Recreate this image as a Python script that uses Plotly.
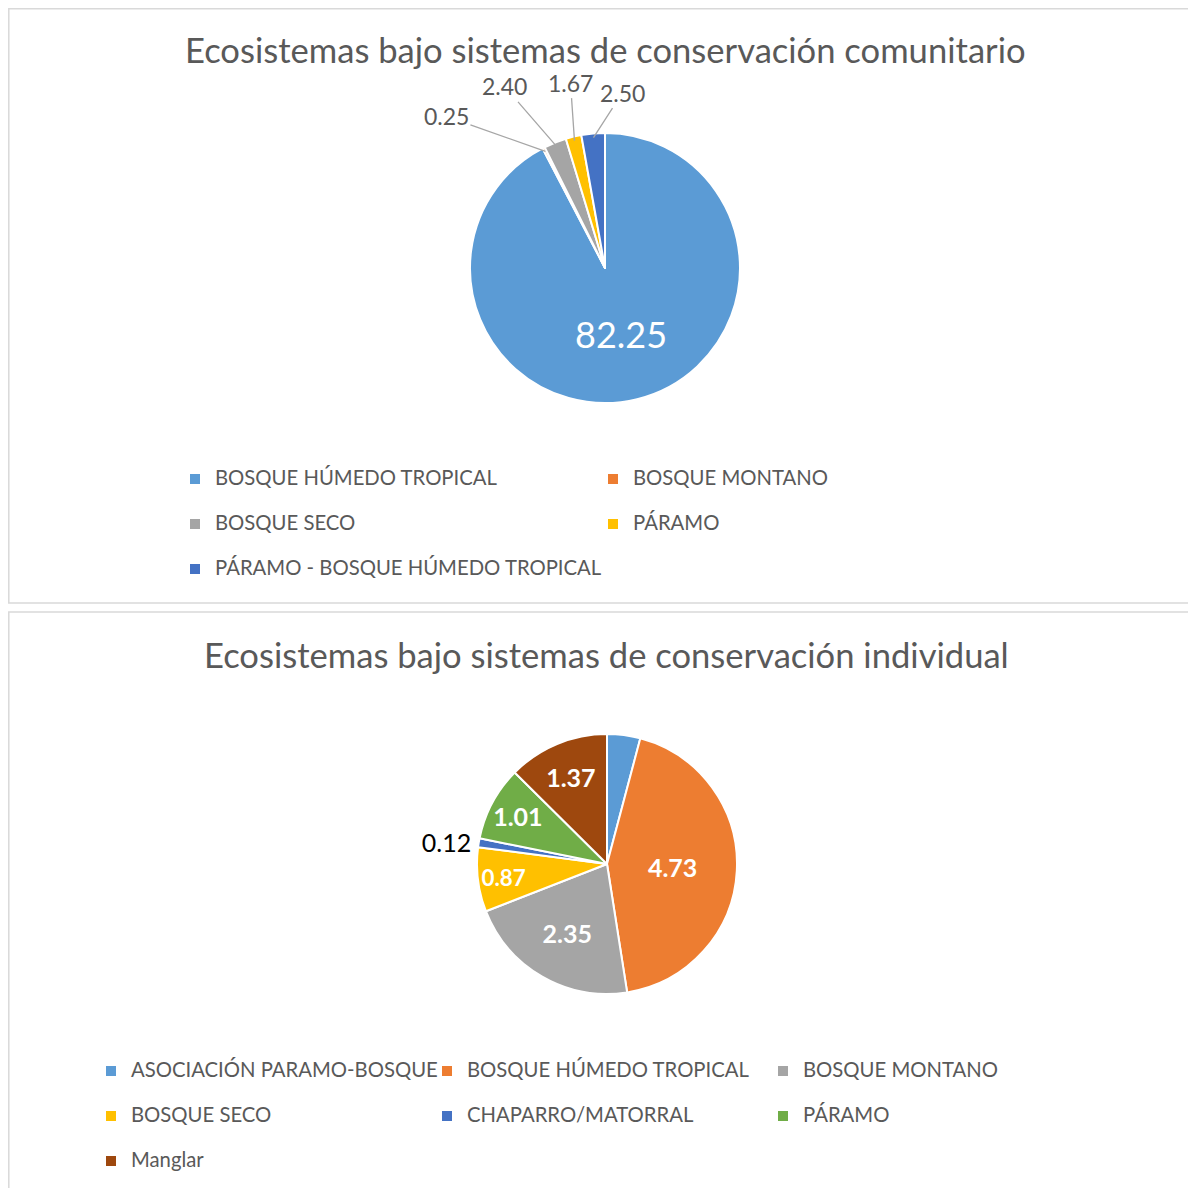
import math
import plotly.graph_objects as go

# figure is drawn inside the page body (8px default body margin)
OFF = 8
FW, FH = 1188, 1210

# ---------------- data ----------------
title_top = "Ecosistemas bajo sistemas de conservación comunitario"
labels_top = ["BOSQUE HÚMEDO TROPICAL", "BOSQUE MONTANO", "BOSQUE SECO", "PÁRAMO",
              "PÁRAMO - BOSQUE HÚMEDO TROPICAL"]
values_top = [82.25, 0.25, 2.40, 1.67, 2.50]
colors_top = ["#5B9BD5", "#ED7D31", "#A5A5A5", "#FFC000", "#4472C4"]
inside_top = [True, False, False, False, False]

title_bot = "Ecosistemas bajo sistemas de conservación individual"
labels_bot = ["ASOCIACIÓN PARAMO-BOSQUE", "BOSQUE HÚMEDO TROPICAL", "BOSQUE MONTANO",
              "BOSQUE SECO", "CHAPARRO/MATORRAL", "PÁRAMO", "Manglar"]
values_bot = [0.45, 4.73, 2.35, 0.87, 0.12, 1.01, 1.37]
colors_bot = ["#5B9BD5", "#ED7D31", "#A5A5A5", "#FFC000", "#4472C4", "#70AD47", "#9E480E"]
inside_bot = [True, True, True, True, False, True, True]
shown_bot = [False, True, True, True, True, True, True]

# ---------------- style / layout ----------------
FONT = "Lato"
GRAY = "#595959"
LEG_SIZE = 20.3
TITLE_SIZE = 34.6
TOP_CX, TOP_CY, TOP_R = 605, 268, 135
BOT_CX, BOT_CY, BOT_R = 607, 864, 130
# pixel offsets of the outside data labels of the top pie (callouts)
callout_offsets_top = [None, (-99, -35), (-52, -60), (-4, -58), (29, -45)]


def px(x):
    return (x - OFF) / FW


def py(y):
    return 1 - (y - OFF) / FH


def leg_label(s, spacer):
    # two-line legend entry: visible label + spacer line (Excel-like row spacing)
    return f'<span style="font-size:{LEG_SIZE}px">{s}</span><br>{spacer}'


fig = go.Figure()

fig.add_trace(go.Pie(
    labels=[leg_label(l, " ") for l in labels_top],
    values=values_top,
    marker=dict(colors=colors_top, line=dict(color="white", width=2)),
    sort=False, direction="clockwise", rotation=0,
    text=[f"{v:.2f}" if i else "" for v, i in zip(values_top, inside_top)],
    textinfo="text",
    textposition="inside",
    insidetextorientation="horizontal",
    insidetextfont=dict(family=FONT, size=36, color="white"),
    domain=dict(x=[px(TOP_CX - TOP_R), px(TOP_CX + TOP_R)],
                y=[py(TOP_CY + TOP_R), py(TOP_CY - TOP_R)]),
    hoverinfo="value",
    legend="legend",
))

fig.add_trace(go.Pie(
    labels=[leg_label(l, "&nbsp;") for l in labels_bot],
    values=values_bot,
    marker=dict(colors=colors_bot, line=dict(color="white", width=2)),
    sort=False, direction="clockwise", rotation=0,
    text=[f"{v:.2f}" if s else "" for v, s in zip(values_bot, shown_bot)],
    textinfo="text",
    textposition=["inside" if i else "outside" for i in inside_bot],
    insidetextorientation="horizontal",
    insidetextfont=dict(family=FONT, size=25, color="white", weight="bold"),
    outsidetextfont=dict(family=FONT, size=25, color="black"),
    domain=dict(x=[px(BOT_CX - BOT_R), px(BOT_CX + BOT_R)],
                y=[py(BOT_CY + BOT_R), py(BOT_CY - BOT_R)]),
    hoverinfo="value",
    legend="legend2",
))

# callout labels for the small slices of the top pie, anchored at each slice's
# outer edge (angle computed from the values)
annotations = []
total = sum(values_top)
cum = 0.0
for v, inside, off in zip(values_top, inside_top, callout_offsets_top):
    mid = (cum + v / 2) / total * 2 * math.pi
    cum += v
    if inside:
        continue
    ax_ = TOP_CX + TOP_R * 0.97 * math.sin(mid)
    ay_ = TOP_CY - TOP_R * 0.97 * math.cos(mid)
    annotations.append(dict(
        text=f"{v:.2f}", x=px(ax_), y=py(ay_), xref="paper", yref="paper",
        showarrow=True, arrowhead=0, arrowwidth=1.3, arrowcolor="#A6A6A6",
        ax=off[0], ay=off[1], standoff=0,
        font=dict(family=FONT, size=23, color=GRAY),
    ))

annotations += [
    dict(text=title_top, x=px(605), y=py(50), xref="paper", yref="paper",
         showarrow=False, xanchor="center", yanchor="middle",
         font=dict(family=FONT, size=TITLE_SIZE, color=GRAY)),
    dict(text=title_bot, x=px(606), y=py(655), xref="paper", yref="paper",
         showarrow=False, xanchor="center", yanchor="middle",
         font=dict(family=FONT, size=TITLE_SIZE, color=GRAY)),
]

legend_common = dict(
    orientation="h", entrywidthmode="pixels", valign="top",
    xanchor="left", yanchor="top", traceorder="normal",
    bgcolor="rgba(0,0,0,0)",
    font=dict(family=FONT, size=16.15, color=GRAY),
)

fig.update_layout(
    width=FW, height=FH, autosize=False,
    margin=dict(l=0, r=0, t=0, b=0),
    paper_bgcolor="white", plot_bgcolor="white",
    font=dict(family=FONT, color=GRAY),
    legend=dict(x=px(175), y=py(462), entrywidth=373, **legend_common),
    legend2=dict(x=px(91), y=py(1054), entrywidth=291, **legend_common),
    shapes=[
        dict(type="rect", xref="paper", yref="paper", x0=px(8.8), x1=px(1215),
             y0=py(603), y1=py(8.8), line=dict(color="#D9D9D9", width=1.5)),
        dict(type="rect", xref="paper", yref="paper", x0=px(8.8), x1=px(1215),
             y0=py(1230), y1=py(612), line=dict(color="#D9D9D9", width=1.5)),
    ],
    annotations=annotations,
)

fig.write_html("out.html")
